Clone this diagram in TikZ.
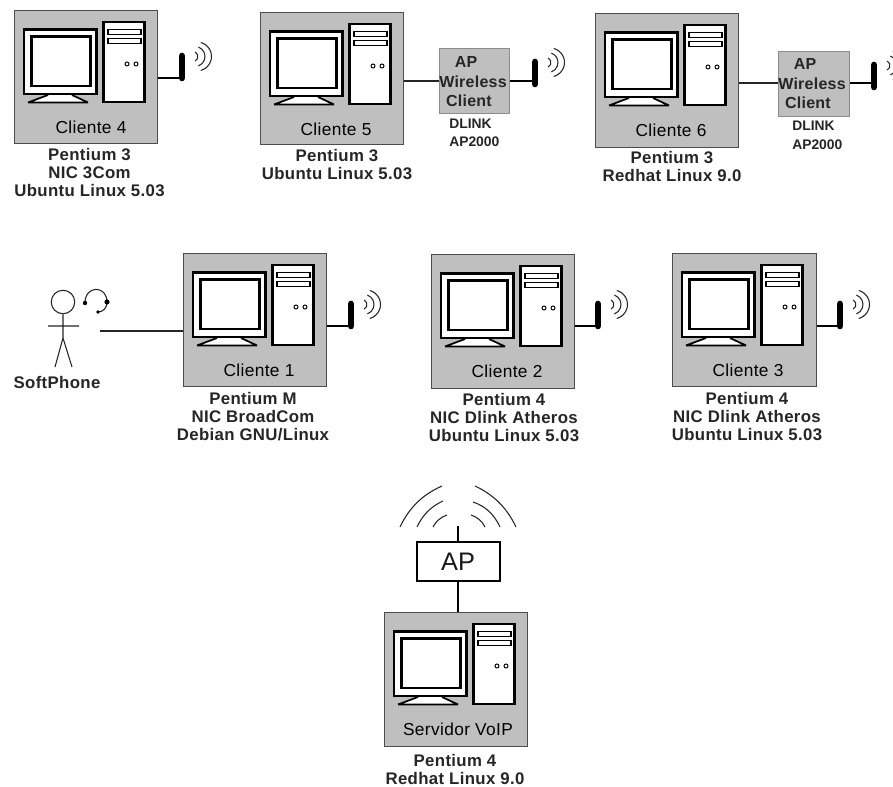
\documentclass[tikz,border=0pt]{standalone}
\usepackage{fontspec}
\setmainfont{Liberation Sans}
\tikzset{x=0.75pt,y=-0.75pt,
 box/.style={draw=black!70,fill=black!25,line width=1pt,anchor=north west,inner sep=0pt},
 blk/.style={draw=black,fill=white,line width=2.2pt},
 wire/.style={draw=black!85,line width=0.9pt},
 thickwire/.style={draw=black,line width=1.7pt},
 ant/.style={draw=black,line width=5pt,line cap=round},
 wave/.style={draw=black!85,line width=0.8pt},
 captxt/.style={font=\fontsize{12.6}{13.5}\selectfont\bfseries\addfontfeature{LetterSpace=2},text=black!85,align=center,inner sep=0pt},
 smalltxt/.style={font=\fontsize{10.4}{14}\selectfont\bfseries,text=black!85,align=left,inner sep=0pt},
 aptxt/.style={font=\fontsize{12}{14}\selectfont\bfseries\addfontfeature{LetterSpace=1.5},text=black!85,inner sep=0pt},
 boxlabel/.style={font=\fontsize{13}{13}\selectfont\addfontfeature{LetterSpace=2},text=black,inner sep=0pt}}
% name, x, y, width, height, label, label x offset
\newcommand{\pcbox}[7]{%
 \node[box,minimum width=#4*0.75pt,minimum height=#5*0.75pt] (#1) at (#2,#3) {};
 \begin{scope}[shift={(#2,#3)}]
  \fill[white] (14,92) -- (34,85) -- (58,85) -- (74,92) -- cycle;
  \draw[black,line width=1.3pt] (14,92.5) -- (34,85) (58,85) -- (74,92.5) (14,92.5) -- (74,92.5);
  \draw[blk] (10,19.5) rectangle (82.5,84);
  \draw[blk] (17.5,26.5) rectangle (76.5,76);
  \draw[blk] (89.5,12) rectangle (130.5,92);
  \draw[black,line width=0.8pt,fill=white] (94,19.5) rectangle (127,24.5);
  \draw[black,line width=0.8pt,fill=white] (94,28.5) rectangle (127,33.5);
  \draw[black,line width=0.7pt] (113,54) circle (2);
  \draw[black,line width=0.7pt] (122,54) circle (2);
  \node[boxlabel] (#1lab) at (#7,117) {#6};
 \end{scope}}
% antenna with waves: name, x, y of bottom of mast
\newcommand{\antenna}[3]{%
 \coordinate (#1) at (#2,#3-2);
 \coordinate (#1bot) at (#2,#3-2);
 \coordinate (#1top) at (#2,#3-24);
 \draw[ant] (#1bot) -- (#1top);
 \begin{scope}[shift={(#2,#3)}]
  \draw[wave] (11,-23.5) ++(-65:5) arc[start angle=-65,end angle=65,radius=5];
  \draw[wave] (13,-23.5) ++(-70:10) arc[start angle=-70,end angle=70,radius=10];
  \draw[wave] (15,-23.5) ++(-75:14.5) arc[start angle=-75,end angle=75,radius=14.5];
 \end{scope}}
% AP wireless client text: name, x of centre, y of first line
\newcommand{\apclient}[3]{%
 \node[aptxt] (#1a) at (#2-7,#3) {AP};
 \node[aptxt] (#1b) at (#2,#3+19.5) {Wireless};
 \node[aptxt] (#1c) at (#2-4,#3+38.5) {Client};}
\begin{document}
\begin{tikzpicture}
\useasboundingbox (0,0) rectangle (893,787);
\fill[white] (0,0) rectangle (893,787);

% top row
\pcbox{c4}{14}{10}{143}{133}{Cliente 4}{77}
\antenna{a4}{182}{80}
\draw[thickwire] (c4.east |- a4) -- (a4);
\node[captxt] (t4) at (89.5,173) {Pentium 3\\NIC 3Com\\Ubuntu Linux 5.03};

\pcbox{c5}{260}{12}{143}{132}{Cliente 5}{76}
\node[box,minimum width=70*0.75pt,minimum height=65*0.75pt,draw=black!45] (ap5) at (439,48) {};
\antenna{a5}{535}{86}
\coordinate (w5) at (535,81);
\draw[wire] (c5.east |- w5) -- (ap5.west |- w5);
\draw[thickwire] (ap5.east |- w5) -- (w5);
\apclient{ap5t}{473}{62}
\node[smalltxt,anchor=north west] (d5) at (449,118.5) {DLINK\\AP2000};
\node[captxt] (t5) at (337,164.5) {Pentium 3\\Ubuntu Linux 5.03};

\pcbox{c6}{595}{13}{143}{134}{Cliente 6}{76}
\node[box,minimum width=71*0.75pt,minimum height=65*0.75pt,draw=black!45] (ap6) at (778,51) {};
\antenna{a6}{874}{89}
\coordinate (w6) at (874,83);
\draw[wire] (c6.east |- w6) -- (ap6.west |- w6);
\draw[thickwire] (ap6.east |- w6) -- (w6);
\apclient{ap6t}{812}{64}
\node[smalltxt,anchor=north west] (d6) at (792,121) {DLINK\\AP2000};
\node[captxt] (t6) at (672,167) {Pentium 3\\Redhat Linux 9.0};

% middle row
\pcbox{c1}{183}{253}{143}{133}{Cliente 1}{76}
\antenna{a1}{351}{328}
\draw[thickwire] (c1.east |- a1) -- (a1);
\node[captxt] (t1) at (253,417) {Pentium M\\NIC BroadCom\\Debian GNU/Linux};

\pcbox{c2}{431}{254}{143}{134}{Cliente 2}{76}
\antenna{a2}{598}{328}
\draw[thickwire] (c2.east |- a2) -- (a2);
\node[captxt] (t2) at (504,418) {Pentium 4\\NIC Dlink Atheros\\Ubuntu Linux 5.03};

\pcbox{c3}{672}{253}{144}{133}{Cliente 3}{76}
\antenna{a3}{840}{328}
\draw[thickwire] (c3.east |- a3) -- (a3);
\node[captxt] (t3) at (747,417) {Pentium 4\\NIC Dlink Atheros\\Ubuntu Linux 5.03};

% softphone
\node[circle,draw=black!85,line width=0.8pt,minimum size=23.5*0.75pt,inner sep=0pt] (head) at (63,302) {};
\coordinate (hip) at (63,338);
\coordinate (armL) at (48,326);
\coordinate (armR) at (79,326);
\coordinate (legL) at (55,367);
\coordinate (legR) at (72,367);
\coordinate (sw) at (100,331);
\draw[wave] (head.south) -- (hip) (armL) -- (armR) (legL) -- (hip) -- (legR);
\draw[wave] (85,303) .. controls (85,285) and (107,285) .. (107,302) .. controls (107,308) and (103,312) .. (98,312);
\fill[black] (85,303) circle (2.2) (107,302) circle (2.6) (98,312) circle (1.8);
\node[captxt] (sp) at (57,382) {SoftPhone};
\draw[wire] (sw) -- (c1.west |- sw);

% server
\pcbox{srv}{384}{612}{143}{134}{Servidor VoIP}{74}
\node[draw=black,fill=white,line width=1.5pt,minimum width=83*0.75pt,minimum height=39*0.75pt,inner sep=0pt,font=\fontsize{19}{21}\selectfont,text=black!90] (ap) at (458,562) {AP};
\coordinate (apa) at (458,526);
\draw[black,line width=2.2pt] (ap.north) -- (apa);
\draw[thickwire] (ap.south) -- (srv.north -| ap.south);
\draw[wave] (400,527) .. controls (410,506) and (424,494) .. (442,486);
\draw[wave] (417,527) .. controls (423,514) and (432,506) .. (443,501);
\draw[wave] (433,527) .. controls (436,521) and (441,517) .. (447,515);
\draw[wave] (516,527) .. controls (506,506) and (492,494) .. (475,486);
\draw[wave] (500,527) .. controls (494,514) and (485,506) .. (473,502);
\draw[wave] (485,527) .. controls (482,521) and (477,517) .. (471,515);
\node[captxt] (ts) at (455,769) {Pentium 4\\Redhat Linux 9.0};
\end{tikzpicture}
\end{document}
